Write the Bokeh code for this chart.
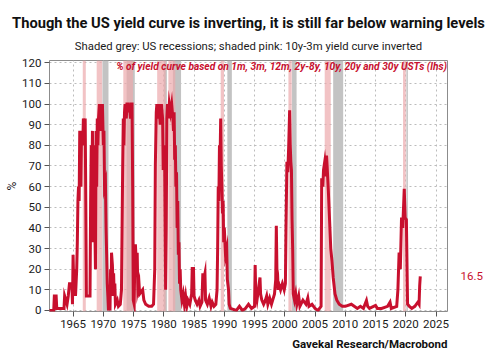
from bokeh.plotting import figure
from bokeh.models import Range1d, FixedTicker, ColumnDataSource, Title, LinearAxis
from bokeh.embed import file_html
from bokeh.resources import INLINE

# ---- data ----
years = [1961.0, 1961.8, 1961.9, 1962.2, 1962.3, 1963.5, 1963.6, 1964.0, 1964.2, 1964.4,
         1964.8, 1964.9, 1965.0, 1965.1, 1965.3, 1965.4, 1965.6, 1965.7, 1965.8, 1965.9,
         1966.0, 1966.1, 1966.3, 1966.4, 1966.6, 1966.7, 1966.9, 1967.0, 1967.1, 1967.2,
         1967.8, 1967.9, 1968.0, 1968.1, 1968.2, 1968.35, 1968.5, 1968.6, 1968.7, 1968.8,
         1968.9, 1969.0, 1969.1, 1969.2, 1969.35, 1969.5, 1969.6, 1969.75, 1969.85, 1970.0,
         1970.1, 1970.2, 1970.35, 1970.45, 1970.55, 1970.65, 1970.75, 1970.85, 1971.0, 1971.1,
         1971.2, 1971.3, 1971.35, 1971.5, 1971.6, 1971.7, 1971.8, 1971.9, 1972.0, 1972.3,
         1972.5, 1972.8, 1973.0, 1973.1, 1973.2, 1973.3, 1973.4, 1973.5, 1973.6, 1973.8,
         1973.9, 1974.1, 1974.2, 1974.3, 1974.5, 1974.6, 1974.75, 1974.85, 1974.95, 1975.1,
         1975.2, 1975.3, 1975.5, 1975.6, 1975.7, 1975.9, 1976.0, 1976.5, 1976.7, 1977.0,
         1977.5, 1978.0, 1978.3, 1978.5, 1978.6, 1978.75, 1978.85, 1979.0, 1979.2, 1979.4,
         1979.6, 1979.8, 1979.9, 1980.0, 1980.15, 1980.3, 1980.4, 1980.5, 1980.6, 1980.75,
         1980.9, 1981.1, 1981.3, 1981.5, 1981.6, 1981.7, 1981.8, 1981.9, 1982.0, 1982.1,
         1982.2, 1982.3, 1982.4, 1982.5, 1982.6, 1982.7, 1982.8, 1983.0, 1983.2, 1983.4,
         1983.6, 1983.8, 1984.0, 1984.3, 1984.6, 1984.7, 1984.8, 1984.9, 1985.0, 1985.2,
         1985.5, 1985.8, 1986.0, 1986.3, 1986.45, 1986.6, 1986.8, 1986.9, 1987.2, 1987.5,
         1987.8, 1988.0, 1988.3, 1988.6, 1988.8, 1988.9, 1989.0, 1989.1, 1989.2, 1989.3,
         1989.4, 1989.5, 1989.6, 1989.7, 1989.8, 1989.9, 1990.0, 1990.2, 1990.4, 1990.5,
         1990.7, 1990.8, 1991.0, 1992.0, 1992.5, 1993.0, 1993.5, 1994.0, 1994.5, 1995.0,
         1995.1, 1995.2, 1995.4, 1995.9, 1996.0, 1996.2, 1996.5, 1996.8, 1997.0, 1997.2,
         1997.5, 1997.8, 1998.0, 1998.3, 1998.5, 1998.6, 1998.7, 1998.8, 1998.9, 1999.0,
         1999.3, 1999.6, 1999.9, 2000.1, 2000.2, 2000.35, 2000.5, 2000.65, 2000.8, 2000.9,
         2001.0, 2001.1, 2001.2, 2001.3, 2001.4, 2001.6, 2001.8, 2002.0, 2002.3, 2002.5,
         2003.0, 2003.5, 2003.8, 2004.0, 2004.5, 2005.0, 2005.5, 2006.0, 2006.1, 2006.3,
         2006.4, 2006.6, 2006.8, 2006.9, 2007.0, 2007.2, 2007.4, 2007.6, 2007.8, 2008.0,
         2008.3, 2008.6, 2009.0, 2009.5, 2010.0, 2011.0, 2012.0, 2012.5, 2013.0, 2013.5,
         2013.7, 2014.0, 2015.0, 2015.3, 2016.0, 2017.0, 2017.4, 2017.6, 2018.5, 2018.7,
         2018.9, 2019.1, 2019.3, 2019.5, 2019.75, 2019.9, 2020.1, 2020.3, 2020.6, 2021.0,
         2021.5, 2022.0, 2022.2, 2022.3, 2022.4]
pct = [0, 0, 7, 7, 1, 1, 7, 3, 7, 13,
       13, 3, 27, 13, 20, 7, 20, 33, 53, 60,
       53, 87, 60, 87, 80, 93, 87, 93, 53, 7,
       7, 53, 80, 53, 87, 33, 80, 40, 20, 87,
       60, 93, 80, 93, 100, 87, 100, 93, 100, 80,
       87, 60, 62, 40, 27, 13, 7, 0, 3, 0,
       20, 7, 28, 22, 13, 18, 7, 13, 3, 5,
       2, 3, 10, 40, 70, 93, 80, 96, 100, 93,
       100, 100, 96, 100, 93, 100, 100, 60, 5, 3,
       24, 32, 20, 28, 10, 13, 8, 10, 5, 3,
       2, 2, 3, 20, 70, 96, 100, 93, 100, 90,
       100, 93, 68, 80, 68, 10, 40, 93, 100, 93,
       100, 96, 100, 93, 87, 96, 73, 80, 60, 67,
       40, 53, 27, 33, 13, 20, 10, 5, 8, 3,
       7, 2, 5, 3, 8, 21, 15, 21, 7, 5,
       3, 5, 2, 4, 18, 15, 18, 5, 3, 6,
       2, 4, 2, 3, 10, 30, 60, 53, 80, 73,
       93, 70, 60, 47, 53, 33, 40, 27, 30, 15,
       10, 3, 1, 0, 2, 0, 1, 3, 1, 2,
       22, 8, 5, 16, 8, 5, 3, 5, 7, 3,
       6, 3, 5, 8, 15, 41, 20, 18, 10, 13,
       10, 13, 10, 13, 40, 72, 67, 80, 97, 80,
       72, 68, 44, 30, 8, 5, 8, 3, 7, 2,
       5, 3, 6, 2, 3, 1, 0, 2, 64, 60,
       68, 72, 65, 75, 70, 58, 44, 30, 24, 16,
       8, 5, 3, 2, 2, 3, 1, 2, 1, 4.8,
       2, 1, 2.4, 1, 1, 2, 4, 1, 2, 10,
       28, 20, 45, 40, 59, 45, 44, 3, 2, 1,
       2, 4, 3, 12, 16.5]

rec_start = [1969.85, 1973.85, 1980.0, 1981.5, 1990.5, 2001.2, 2008.0, 2020.1]
rec_end = [1970.85, 1975.2, 1980.5, 1982.85, 1991.25, 2001.95, 2009.65, 2020.35]
inv_start = [1966.6, 1968.9, 1973.3, 1978.9, 1980.75, 1989.4, 2000.6, 2006.6, 2019.55]
inv_end = [1967.1, 1969.8, 1974.9, 1980.3, 1981.9, 1989.95, 2001.15, 2007.6, 2020.0]

x_ticks = [1965, 1970, 1975, 1980, 1985, 1990, 1995, 2000, 2005, 2010, 2015, 2020, 2025]
y_ticks = [0, 10, 20, 30, 40, 50, 60, 70, 80, 90, 100, 110, 120]
last_value = [16.5]

title = "Though the US yield curve is inverting, it is still far below warning levels"
subtitle = "Shaded grey: US recessions; shaded pink: 10y-3m yield curve inverted"
series_name = "% of yield curve based on 1m, 3m, 12m, 2y-8y, 10y, 20y and 30y USTs (lhs)"
source = "Gavekal Research/Macrobond"

FONT = "Roboto"
TFONT = "Noto Sans SemiCondensed, Roboto"
SFONT = "Noto Sans Condensed, Roboto"
RED = "#c8102e"
Y0, Y1 = -0.5, 121.1

p = figure(width=485, height=359, output_backend="svg", toolbar_location=None,
           x_range=Range1d(1961.1, 2026.9), y_range=Range1d(Y0, Y1),
           min_border_left=49, min_border_right=35, min_border_top=60, min_border_bottom=48)
p.background_fill_color = "white"
p.border_fill_color = "white"
p.outline_line_color = "#8c8c8c"
p.outline_line_width = 1

rec = ColumnDataSource(dict(left=rec_start, right=rec_end))
inv = ColumnDataSource(dict(left=inv_start, right=inv_end))
p.quad(left="left", right="right", bottom=Y0, top=Y1, source=rec,
       fill_color="#c3c3c3", line_color=None)
p.quad(left="left", right="right", bottom=Y0, top=Y1, source=inv,
       fill_color="#eca9ad", fill_alpha=0.7, line_color=None)

p.line(years, pct, line_color=RED, line_width=3, line_join="miter",
       legend_label=series_name)

p.xaxis.ticker = FixedTicker(ticks=x_ticks)
p.yaxis.ticker = FixedTicker(ticks=y_ticks)
for ax in (p.xaxis[0], p.yaxis[0]):
    ax.axis_line_color = None
    ax.major_tick_line_color = "#555555"
    ax.major_tick_in = 0
    ax.major_tick_out = 5
    ax.minor_tick_line_color = None
    ax.major_label_text_font = FONT
    ax.major_label_text_font_size = "11.5px"
    ax.major_label_text_color = "#1a1a1a"
    ax.major_label_standoff = 3
p.yaxis.axis_label = "%"
p.yaxis.axis_label_text_font = FONT
p.yaxis.axis_label_text_font_style = "normal"
p.yaxis.axis_label_text_font_size = "12px"
p.yaxis.axis_label_text_color = "#1a1a1a"
p.yaxis.axis_label_standoff = 0

right = LinearAxis(ticker=FixedTicker(ticks=last_value))
right.axis_line_color = None
right.major_tick_line_color = None
right.minor_tick_line_color = None
right.major_label_standoff = 7
right.major_label_text_font = FONT
right.major_label_text_font_size = "11.5px"
right.major_label_text_color = RED
p.add_layout(right, "right")

p.xgrid.grid_line_color = "#bcbcbc"
p.xgrid.grid_line_dash = "2 3"
p.ygrid.grid_line_color = "#bcbcbc"
p.ygrid.grid_line_dash = "2 3"

p.legend.location = "top_right"
p.legend.background_fill_alpha = 0
p.legend.border_line_color = None
p.legend.glyph_width = 0
p.legend.glyph_height = 12
p.legend.label_text_font = FONT
p.legend.label_text_font_size = "10.2px"
p.legend.label_text_font_style = "bold italic"
p.legend.label_text_color = RED
p.legend.margin = 0
p.legend.padding = 0
p.legend.spacing = 0
p.legend.label_standoff = 0
p.legend.label_height = 12
p.legend.label_text_baseline = "middle"

p.add_layout(Title(text=subtitle, text_font=SFONT, text_font_size="11.3px",
                   text_font_style="normal", text_color="#1a1a1a",
                   align="center", vertical_align="top", standoff=12), "above")
p.add_layout(Title(text=title, text_font=TFONT, text_font_size="14.7px",
                   text_font_style="bold", text_color="#111111",
                   align="center", standoff=3), "above")
p.add_layout(Title(text=source, text_font=FONT, text_font_size="11.5px",
                   text_font_style="bold", text_color="#111111",
                   align="right", standoff=8), "below")

open("out.html", "w").write(file_html(p, INLINE))
